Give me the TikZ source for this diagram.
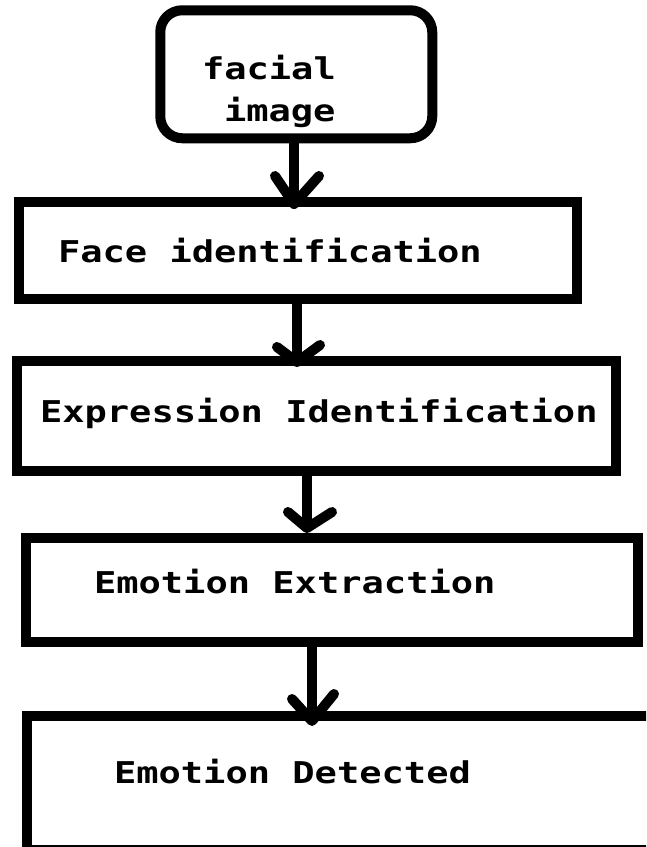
\documentclass[tikz,border=0pt]{standalone}
\usepackage{fontspec}
\usepackage{graphicx}
\newfontfamily\lblfont{DejaVu Sans Mono}
\usetikzlibrary{calc}
\begin{document}
\begin{tikzpicture}[x=1pt,y=-1pt,
  box/.style={draw=black, line width=10pt, inner sep=0pt, outer sep=0pt, rectangle},
  lbl/.style={anchor=base west, inner sep=0pt, outer sep=0pt, font=\lblfont\bfseries\fontsize{30}{36}\selectfont},
  shaft/.style={line width=10pt},
  arm/.style={line width=10pt, line cap=round, line join=round}]
\useasboundingbox (0,0) rectangle (646,847);
\fill[white] (0,0) rectangle (646,847);
\clip (0,0) rectangle (646,847);

% boxes
\node[box, rounded corners=22pt, minimum width=272pt, minimum height=128pt] (b1) at (296.25,74.25) {};
\node[box, minimum width=558.5pt, minimum height=96.5pt] (b2) at (297.75,250.25) {};
\node[box, minimum width=599pt, minimum height=110pt] (b3) at (316.5,416) {};
\node[box, minimum width=612.5pt, minimum height=104pt] (b4) at (331.75,590) {};
\node[box, minimum width=673pt, minimum height=134.5pt] (b5) at (363.5,782.75) {};

% texts
\node[lbl] (t1a) at (202,79) {\scalebox{1.235}[1]{facial}};
\node[lbl] (t1b) at (224,121) {\scalebox{1.235}[1]{image}};
\node[lbl] (t2) at (58,262) {\scalebox{1.235}[1]{Face identification}};
\node[lbl] (t3) at (40,422) {\scalebox{1.235}[1]{Expression Identification}};
\node[lbl] (t4) at (94,593) {\scalebox{1.235}[1]{Emotion Extraction}};
\node[lbl] (t5) at (114,783) {\scalebox{1.235}[1]{Emotion Detected}};

% arrows
\coordinate (a1) at (294,204);
\coordinate (a2) at (297,362);
\coordinate (a3) at (307,528);
\coordinate (a4) at (312,721);
\draw[shaft] (b1.south -| a1) -- (a1);
\draw[arm] ($(a1)+(-19,-28)$) -- (a1) -- ($(a1)+(25,-28)$);
\draw[shaft] (b2.south -| a2) -- (a2);
\draw[arm] ($(a2)+(-20,-15)$) -- (a2) -- ($(a2)+(23,-17)$);
\draw[shaft] (b3.south -| a3) -- (a3);
\draw[arm] ($(a3)+(-19,-16)$) -- (a3) -- ($(a3)+(25,-16)$);
\draw[shaft] (b4.south -| a4) -- (a4);
\draw[arm] ($(a4)+(-20,-22)$) -- (a4) -- ($(a4)+(22,-27)$);
\end{tikzpicture}
\end{document}
